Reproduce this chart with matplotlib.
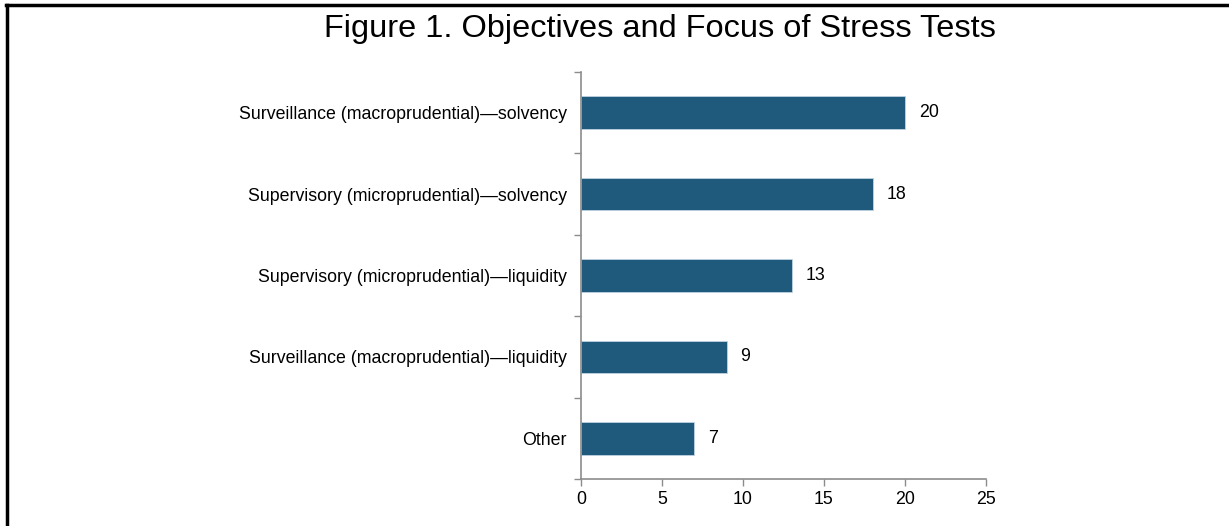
import matplotlib.pyplot as plt
import matplotlib.lines as mlines
import numpy as np

plt.rcParams['font.family'] = ['Liberation Sans', 'DejaVu Sans']

categories = [
    'Surveillance (macroprudential)\u2014solvency',
    'Supervisory (microprudential)\u2014solvency',
    'Supervisory (microprudential)\u2014liquidity',
    'Surveillance (macroprudential)\u2014liquidity',
    'Other',
]
counts = [20, 18, 13, 9, 7]
x_ticks = [0, 5, 10, 15, 20, 25]

bar_color = '#1F5A7D'
axis_gray = '#8C8C8C'

fig = plt.figure(figsize=(12.29, 5.26), dpi=100)
ax = fig.add_axes([0.4727, 0.0894, 0.3296, 0.7737])

y = np.arange(len(categories))[::-1]
ax.barh(y, counts, height=0.4, color=bar_color, edgecolor='#BFD3E0', linewidth=0.6)

for yi, v in zip(y, counts):
    ax.text(v + 0.85, yi, str(v), va='center', ha='left', fontsize=12.8)

ax.set_xlim(0, 25)
ax.set_ylim(-0.5, len(categories) - 0.5)
ax.set_xticks(x_ticks)
ax.set_xticklabels([str(t) for t in x_ticks], fontsize=12.8)
ax.set_yticks(y)
ax.set_yticklabels(categories, fontsize=12.8)
ax.tick_params(axis='y', length=0, pad=10)
ax.set_yticks(np.arange(-0.5, len(categories)), minor=True)
ax.tick_params(axis='y', which='minor', length=5, color=axis_gray, width=1)
ax.tick_params(axis='x', length=5, color=axis_gray, width=1, pad=4)

for side in ['top', 'right']:
    ax.spines[side].set_visible(False)
for side in ['left', 'bottom']:
    ax.spines[side].set_color(axis_gray)
    ax.spines[side].set_linewidth(1.2)

fig.text(0.537, 0.945, 'Figure 1. Objectives and Focus of Stress Tests',
         ha='center', va='center', fontsize=23.4)

# frame lines (left and top only; the rest is cut off)
fig.add_artist(mlines.Line2D([0.0055, 0.0055], [0.0, 0.991], color='black', linewidth=2.5,
                             transform=fig.transFigure))
fig.add_artist(mlines.Line2D([0.0045, 1.0], [0.991, 0.991], color='black', linewidth=2.5,
                             transform=fig.transFigure))

fig.savefig('out.png', dpi=100)
